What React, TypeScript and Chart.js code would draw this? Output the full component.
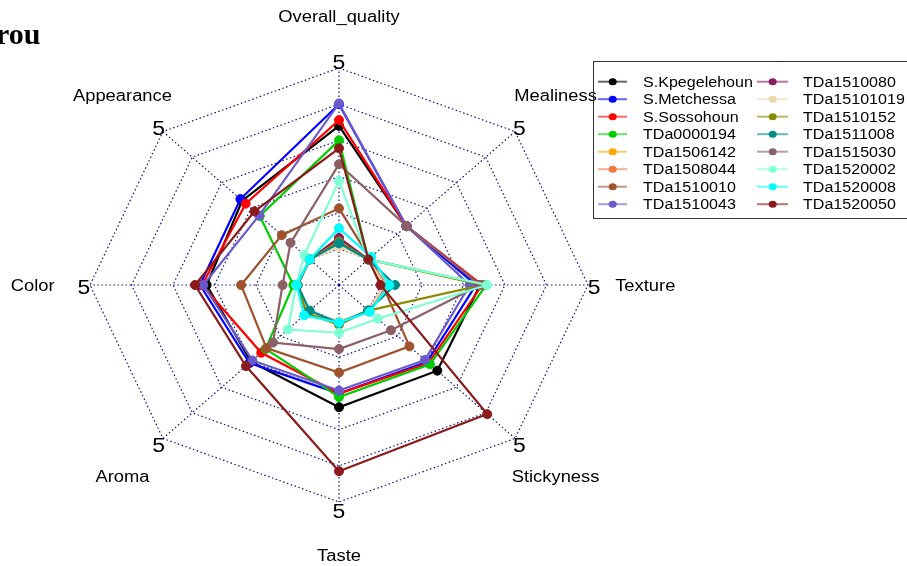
import React, { useEffect, useRef } from 'react';
import { Chart, registerables } from 'chart.js';

Chart.register(...registerables);

// ---------- data ----------
const axisLabels = ['Overall_quality', 'Mealiness', 'Texture', 'Stickyness', 'Taste', 'Aroma', 'Color', 'Appearance'];
const axisEndLabels = ['5', '5', '5', '5', '5', '5', '5', '5'];
const titleText = 'rou';

const seriesNames = [
  'S.Kpegelehoun', 'S.Metchessa', 'S.Sossohoun', 'TDa0000194',
  'TDa1506142', 'TDa1508044', 'TDa1510010', 'TDa1510043',
  'TDa1510080', 'TDa15101019', 'TDa1510152', 'TDa1511008',
  'TDa1515030', 'TDa1520002', 'TDa1520008', 'TDa1520050',
];
const seriesColors = [
  '#000000', '#0000FF', '#FF0000', '#00CD00',
  '#FFA500', '#EE7942', '#A0522D', '#6A5ACD',
  '#8B1C62', '#EED8AE', '#8B8B00', '#008B8B',
  '#8B5F65', '#7FFFD4', '#00FFFF', '#8B1A1A',
];

// order: Overall_quality, Mealiness, Texture, Stickyness, Taste, Aroma, Color, Appearance
const sKpegelehoun = [3.4, 1.3, 2.4, 2.35, 2.38, 2.0, 2.19, 2.3];
const sMetchessa = [4.0, 1.3, 2.3, 2.0, 2.0, 2.05, 2.35, 2.36];
const sSossohoun = [3.56, 1.3, 2.45, 2.05, 2.0, 1.65, 2.3, 2.18];
const tda0000194 = [3.0, 0.0, 2.55, 2.1, 2.1, 1.5, 0.1, 1.7];
const tda1506142 = [0.25, 0.0, 0.15, 0.0, 0.05, 0.1, 0.0, 0.0];
const tda1508044 = [0.3, 0.0, 0.15, 0.0, 0.05, 0.1, 0.0, 0.0];
const tda1510010 = [1.12, 0.05, 0.05, 1.4, 1.42, 1.47, 1.36, 0.95];
const tda1510043 = [4.02, 1.3, 2.15, 1.93, 1.92, 1.95, 2.27, 1.72];
const tda1510080 = [0.3, 0.0, 0.1, 0.0, 0.05, 0.1, 0.0, 0.0];
const tda15101019 = [0.05, 0.0, 0.1, 0.0, 0.0, 0.05, 0.0, 0.0];
const tda1510152 = [0.2, 0.0, 2.45, 0.0, 0.1, 0.1, 0.0, 0.0];
const tda1511008 = [0.15, 0.0, 0.35, 0.0, 0.05, 0.0, 0.0, 0.0];
const tda1515030 = [2.34, 1.3, 2.4, 0.77, 0.77, 1.25, 0.36, 0.65];
const tda1520002 = [1.88, 0.0, 2.57, 0.32, 0.32, 0.74, 0.03, 0.18];
const tda1520008 = [0.57, 0.1, 0.21, 0.05, 0.04, 0.19, 0.02, 0.0];
const tda1520050 = [2.78, 0.0, 0.0, 4.05, 4.15, 2.17, 2.47, 1.88];

const seriesValues = [
  sKpegelehoun, sMetchessa, sSossohoun, tda0000194,
  tda1506142, tda1508044, tda1510010, tda1510043,
  tda1510080, tda15101019, tda1510152, tda1511008,
  tda1515030, tda1520002, tda1520008, tda1520050,
];

const scaleMin = -1;
const scaleMax = 5;
const scaleStep = 1;

// ---------- styling ----------
const STRETCH = 249 / 217; // horizontal stretch of the picture
const SANS = "'Liberation Sans', Arial, sans-serif";
const GRID = 'rgba(0,0,139,0.95)';

function hexA(hex: string, a: number) {
  const n = parseInt(hex.slice(1), 16);
  return `rgba(${(n >> 16) & 255},${(n >> 8) & 255},${n & 255},${a})`;
}

function sText(ctx: CanvasRenderingContext2D, text: string, x: number, y: number, align: CanvasTextAlign, baseline: CanvasTextBaseline = 'middle') {
  ctx.save();
  ctx.translate(x, y);
  ctx.scale(STRETCH, 1);
  ctx.textAlign = align;
  ctx.textBaseline = baseline;
  ctx.fillText(text, 0, 0);
  ctx.restore();
}

const overlayPlugin = {
  id: 'overlay',
  beforeLayout(chart: any) {
    const s: any = chart.scales.r;
    if (s && !s.__ell) {
      const orig = Object.getPrototypeOf(s).getPointPosition;
      s.getPointPosition = function (index: number, dist: number, add = 0) {
        const p = orig.call(s, index, dist, add);
        return { x: s.xCenter + (p.x - s.xCenter) * STRETCH, y: p.y, angle: p.angle };
      };
      s.__ell = true;
    }
  },
  afterDraw(chart: any) {
    const ctx: CanvasRenderingContext2D = chart.ctx;
    const s: any = chart.scales.r;
    const cy = s.yCenter;
    ctx.save();
    ctx.fillStyle = '#000';
    // axis end labels
    ctx.font = `20px ${SANS}`;
    axisEndLabels.forEach((t, i) => {
      const p = s.getPointPosition(i, s.drawingArea * 1.025);
      sText(ctx, t, p.x, cy + (p.y - cy) * 1.01 + 3, 'center');
    });
    // axis names
    ctx.font = `16px ${SANS}`;
    axisLabels.forEach((t, i) => {
      const p = s.getPointPosition(i, s.drawingArea * 1.23);
      sText(ctx, t, p.x, cy + (p.y - cy) * 1.01 + 2, 'center');
    });
    // title
    ctx.font = `bold 30px 'Liberation Serif', 'Times New Roman', serif`;
    ctx.textAlign = 'left';
    ctx.textBaseline = 'alphabetic';
    ctx.fillText(titleText, -4, 44);

    // legend
    const boxL = 593.5, boxT = 61.5, boxR = 908.5, boxB = 218.5;
    ctx.strokeStyle = '#333';
    ctx.lineWidth = 1;
    ctx.strokeRect(boxL, boxT, boxR - boxL, boxB - boxT);
    const rowY0 = 81.7, rowH = 17.5;
    const cols = [
      { l0: 598, l1: 627, dot: 612.7, tx: 643 },
      { l0: 757, l1: 788, dot: 772.7, tx: 803 },
    ];
    ctx.font = `14px ${SANS}`;
    seriesNames.forEach((name, i) => {
      const c = cols[Math.floor(i / 8)];
      const y = rowY0 + rowH * (i % 8);
      const col = seriesColors[i];
      ctx.strokeStyle = hexA(col, 0.6);
      ctx.lineWidth = 2;
      ctx.beginPath();
      ctx.moveTo(c.l0, y);
      ctx.lineTo(c.l1, y);
      ctx.stroke();
      ctx.fillStyle = col;
      ctx.beginPath();
      ctx.ellipse(c.dot, y, 3.5 * STRETCH, 3.5, 0, 0, Math.PI * 2);
      ctx.fill();
      ctx.fillStyle = '#000';
      sText(ctx, name, c.tx, y + 1, 'left');
    });
    ctx.restore();
  },
};

export default function App() {
  const ref = useRef<HTMLCanvasElement>(null);
  useEffect(() => {
    if (!ref.current) return;
    const n = seriesNames.length;
    const chart = new Chart(ref.current, {
      type: 'radar',
      data: {
        labels: axisLabels,
        datasets: seriesNames.map((name, i) => ({
          label: name,
          data: seriesValues[i],
          borderColor: seriesColors[i],
          backgroundColor: seriesColors[i],
          pointBackgroundColor: seriesColors[i],
          pointBorderColor: seriesColors[i],
          borderWidth: 2.2,
          pointRadius: 4.5,
          pointBorderWidth: 1,
          fill: false,
          tension: 0,
          order: n - i,
          clip: false as any,
        })),
      },
      options: {
        responsive: false,
        animation: false,
        layout: { padding: { left: 84, right: 313, top: 68, bottom: 64 } },
        plugins: {
          legend: { display: false },
          tooltip: { enabled: false },
          title: { display: false },
        },
        scales: {
          r: {
            min: scaleMin,
            max: scaleMax,
            startAngle: 0,
            ticks: { display: false, stepSize: scaleStep },
            pointLabels: { display: false },
            grid: { color: GRID, lineWidth: 1.2 },
            border: { dash: [1.5, 2.5] } as any,
            angleLines: { color: GRID, lineWidth: 1.2, borderDash: [1.5, 2.5] },
          },
        },
      },
      plugins: [overlayPlugin],
    });
    return () => chart.destroy();
  }, []);
  return (
    <div style={{ position: 'absolute', left: 0, top: 0, width: 907, height: 566, background: '#fff' }}>
      <canvas ref={ref} width={907} height={566} style={{ display: 'block', width: 907, height: 566 }} />
    </div>
  );
}
